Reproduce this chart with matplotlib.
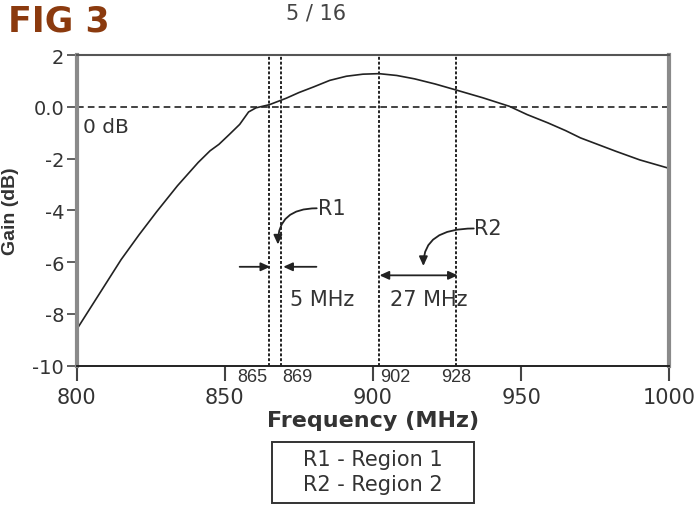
import matplotlib.pyplot as plt
from matplotlib.patches import Rectangle

# gain curve
freq = [800, 807.5, 815, 821, 827, 834, 841, 845, 848, 851.5, 855, 858, 860.5, 865, 870.7, 875, 880, 885.4, 891, 896.6, 902,
        908, 914, 921, 928, 937, 946, 952, 959, 965, 970, 976, 982, 990, 1000]
gain = [-8.6, -7.25, -5.9, -4.95, -4.05, -3.05, -2.15, -1.7, -1.45, -1.07, -0.68, -0.2, -0.04, 0.08, 0.33, 0.55, 0.77, 1.02, 1.18, 1.26, 1.28,
        1.21, 1.08, 0.88, 0.65, 0.35, 0.02, -0.3, -0.62, -0.92, -1.2, -1.46, -1.72, -2.05, -2.38]

region_edges = [865, 869, 902, 928]
xticks = [800, 850, 900, 950, 1000]
yticks = [-10, -8, -6, -4, -2, 0, 2]
ytick_labels = ["-10", "-8", "-6", "-4", "-2", "0.0", "2"]

plt.rcParams['font.family'] = ['DejaVu Sans']
txt = '#333333'
ink = '#222222'

fig = plt.figure(figsize=(6.98, 5.06), dpi=100)
ax = fig.add_axes([0.1099, 0.2753, 0.849, 0.614])

ax.plot(freq, gain, color=ink, lw=1.2)
ax.axhline(0, color=ink, lw=1.2, ls=(0, (4, 2.5)))
for f in region_edges:
    ax.axvline(f, color=ink, lw=1.4, ls=(0, (1.5, 1)))

ax.set_xlim(800, 1000)
ax.set_ylim(-10, 2)
ax.set_xticks(xticks)
ax.set_yticks(yticks)
ax.set_yticklabels(ytick_labels)
ax.tick_params(axis='x', direction='out', length=11, width=1.5, labelsize=15, labelcolor=txt, pad=4, color='#444444')
ax.tick_params(axis='y', direction='out', length=7, width=1.2, labelsize=14, labelcolor=txt, pad=2, color='#444444')
for s in ['left', 'right']:
    ax.spines[s].set_color('#8a8a8a')
    ax.spines[s].set_linewidth(3)
ax.spines['top'].set_color('#555555')
ax.spines['top'].set_linewidth(1.5)
ax.spines['bottom'].set_color('#222222')
ax.spines['bottom'].set_linewidth(1.4)

ax.set_xlabel('Frequency (MHz)', fontsize=16, fontweight='bold', color=txt, va='center')
ax.xaxis.set_label_coords(0.5, -0.176)
ax.set_ylabel('Gain (dB)', fontsize=14, fontweight='bold', color=txt, family='Liberation Sans', va='center')
ax.yaxis.set_label_coords(-0.111, 0.5)

# small frequency labels under the axis
small = dict(xycoords=('data', 'axes fraction'), textcoords='offset points', fontsize=13, color=txt, va='top',
             family='Liberation Sans')
ax.annotate('865', (865, 0), xytext=(-1.5, -1.5), ha='right', **small)
ax.annotate('869', (869, 0), xytext=(1, -1.5), ha='left', **small)
ax.annotate('902', (902, 0), xytext=(0.5, -1.5), ha='left', **small)
ax.annotate('928', (928, 0), xytext=(0, -1.5), ha='center', **small)

ax.text(802.2, -0.75, '0 dB', fontsize=14.5, color=txt, va='center')

arrow = dict(arrowstyle='-|>,head_length=0.55,head_width=0.25', color=ink, lw=1.3, shrinkA=0, shrinkB=0)

# R1: 5 MHz band
ax.annotate('', xy=(865.3, -6.18), xytext=(855, -6.18), arrowprops=arrow)
ax.annotate('', xy=(869.7, -6.18), xytext=(880.9, -6.18), arrowprops=arrow)
ax.text(872.1, -7.44, '5 MHz', fontsize=15, color=txt, va='center')
ax.text(881.3, -3.9, 'R1', fontsize=15, color=txt, va='center')
ax.annotate('', xy=(867.9, -5.32), xytext=(881, -3.92),
            arrowprops=dict(arrow, connectionstyle='angle3,angleA=0,angleB=90'))

# R2: 27 MHz band
ax.annotate('', xy=(928.6, -6.51), xytext=(902.2, -6.51),
            arrowprops=dict(arrow, arrowstyle='<|-|>,head_length=0.55,head_width=0.25'))
ax.text(905.8, -7.44, '27 MHz', fontsize=15, color=txt, va='center')
ax.text(934, -4.67, 'R2', fontsize=15, color=txt, va='center')
ax.annotate('', xy=(917, -6.15), xytext=(934, -4.7),
            arrowprops=dict(arrow, connectionstyle='angle3,angleA=0,angleB=90'))

# legend box under the axis
fig.patches.append(Rectangle((0.3897, 0.004), 0.2894, 0.1206, transform=fig.transFigure,
                             fill=False, ec='#333333', lw=1.4))
fig.text(0.534, 0.0909, 'R1 - Region 1', fontsize=15, color=txt, ha='center', va='center')
fig.text(0.534, 0.0415, 'R2 - Region 2', fontsize=15, color=txt, ha='center', va='center')

fig.text(0.011, 0.957, 'FIG 3', fontsize=25, fontweight='bold', color='#8B3A0E', va='center')
fig.text(0.453, 0.974, '5 / 16', fontsize=15, color='#444444', ha='center', va='center')

fig.savefig('out.png', dpi=100)
